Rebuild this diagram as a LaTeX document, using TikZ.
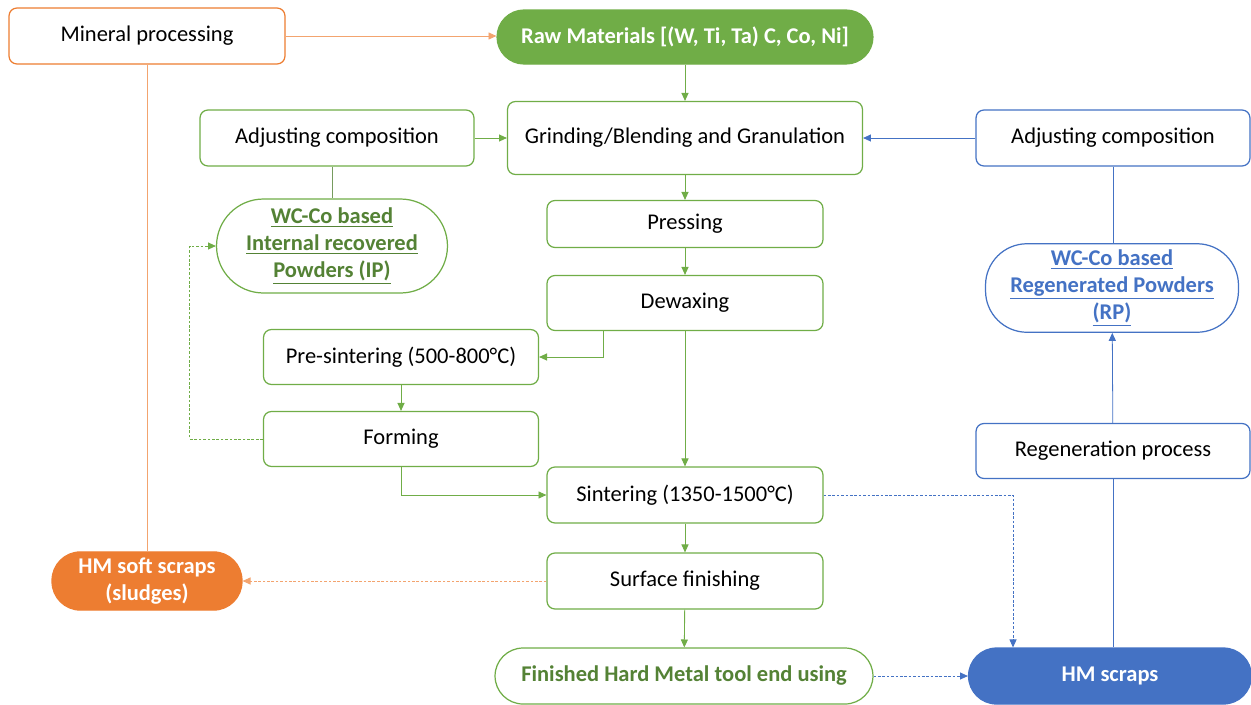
\documentclass[tikz,border=0pt]{standalone}
\usepackage{fontspec}
\setmainfont{Carlito}
\usetikzlibrary{arrows.meta}
\definecolor{hmgreen}{HTML}{70AD47}
\definecolor{hmdkgreen}{HTML}{548235}
\definecolor{hmorange}{HTML}{ED7D31}
\definecolor{hmblue}{HTML}{4472C4}
\newcommand{\hmfont}{\fontsize{12.8}{15.4}\selectfont}
\tikzset{
  stepbox/.style={draw=hmgreen,fill=white,rounded corners=4.5pt,line width=.7pt,
    minimum width=5.52cm,minimum height=1.12cm,align=center},
  pill/.style={draw,fill=white,line width=.7pt,align=center,font=\hmfont\bfseries},
  tip/.style={-{Triangle[length=4.5pt,width=4pt]}},
  flow/.style={hmgreen,line width=.5pt,tip},
  dflow/.style={flow,dash pattern=on 1.5pt off 1pt},
  oline/.style={hmorange!70,line width=.5pt},
  bline/.style={hmblue,line width=.45pt},
}
\begin{document}
\begin{tikzpicture}[x=0.02cm,y=-0.02cm,font=\hmfont]
    \useasboundingbox (0,0) rectangle (1251,704);
    % boxes
    \node[stepbox,draw=hmorange] (mineral) at (147,36) {Mineral processing};
    \node[pill,draw=hmgreen,fill=hmgreen,text=white,minimum width=7.52cm,minimum height=1.08cm,rounded corners=.54cm] (raw) at (685,37) {Raw Materials [(W, Ti, Ta) C, Co, Ni]};
    \node[stepbox,minimum width=7.1cm,minimum height=1.46cm] (grind) at (685,138) {Grinding/Blending and Granulation};
    \node[stepbox,minimum width=5.48cm] (adjL) at (337,138) {Adjusting composition};
    \node[stepbox,draw=hmblue,minimum width=5.48cm] (adjR) at (1113,138) {Adjusting composition};
    \node[pill,draw=hmgreen,text=hmdkgreen,minimum width=4.62cm,minimum height=1.88cm,rounded corners=.94cm] (ip) at (332,246)
        {\underline{WC-Co based}\\\underline{Internal recovered}\\\underline{Powders (IP)}};
    \node[stepbox,minimum height=.94cm] (press) at (685,224) {Pressing};
    \node[stepbox,minimum height=1.1cm] (dewax) at (685,303) {Dewaxing};
    \node[stepbox,minimum width=5.5cm,minimum height=1.1cm] (presint) at (401,357) {Pre-sintering (500-800°C)};
    \node[stepbox,minimum width=5.5cm,minimum height=1.1cm] (forming) at (401,439) {Forming};
    \node[stepbox] (sinter) at (685,495) {Sintering (1350-1500°C)};
    \node[stepbox] (surface) at (685,581) {Surface finishing};
    \node[pill,draw=hmgreen,text=hmdkgreen,minimum width=7.56cm,minimum height=1.12cm,rounded corners=.56cm] (finished) at (684,676) {Finished Hard Metal tool end using};
    \node[pill,draw=hmblue,fill=hmblue,text=white,minimum width=5.66cm,minimum height=1.12cm,rounded corners=.56cm] (hmscrap) at (1110,676) {HM scraps};
    \node[pill,draw=hmorange,fill=hmorange,text=white,minimum width=3.8cm,minimum height=1.14cm,rounded corners=.57cm] (soft) at (147,581) {HM soft scraps\\(sludges)};
    \node[stepbox,draw=hmblue,minimum width=5.48cm,minimum height=1.1cm] (regen) at (1113,451) {Regeneration process};
    \node[pill,draw=hmblue,text=hmblue,minimum width=5.06cm,minimum height=1.66cm,rounded corners=.83cm] (rp) at (1112,288)
        {\underline{WC-Co based}\\\underline{Regenerated Powders}\\\underline{(RP)}};
    % connectors
    \draw[oline,tip] (mineral.east) -- (raw.west |- mineral.east);
    \draw[oline] (mineral.south) -- (soft.north);
    \draw[flow] (raw) -- (grind);
    \draw[flow] (adjL) -- (grind);
    \draw[bline,tip] (adjR) -- (grind);
    \draw[hmgreen!60!gray,line width=.5pt] (ip.north |- adjL.south) -- (ip.north);
    \draw[flow] (grind) -- (press);
    \draw[flow] (press) -- (dewax);
    \draw[flow] ([xshift=-1.64cm]dewax.south) |- (presint.east);
    \draw[flow] (dewax) -- (sinter);
    \draw[flow] (presint) -- (forming);
    \draw[dflow] (forming.west) -- ++(-73,0) |- (ip.west);
    \draw[flow] (forming.south) |- (sinter.west);
    \draw[flow] (sinter) -- (surface);
    \draw[oline,tip,dash pattern=on 1.5pt off 1pt] (surface) -- (soft);
    \draw[flow] (surface) -- (finished);
    \draw[bline,tip,dash pattern=on 1.5pt off 1pt] (sinter.east) -| ([xshift=-1.94cm]hmscrap.north);
    \draw[bline,tip,dash pattern=on 1.5pt off 1pt] (finished) -- (hmscrap);
    \draw[bline] (regen.south |- hmscrap.north) -- (regen.south);
    \draw[bline,tip] (regen) -- (rp);
    \draw[bline] (adjR.south) -- (adjR.south |- rp.north);
\end{tikzpicture}
\end{document}
